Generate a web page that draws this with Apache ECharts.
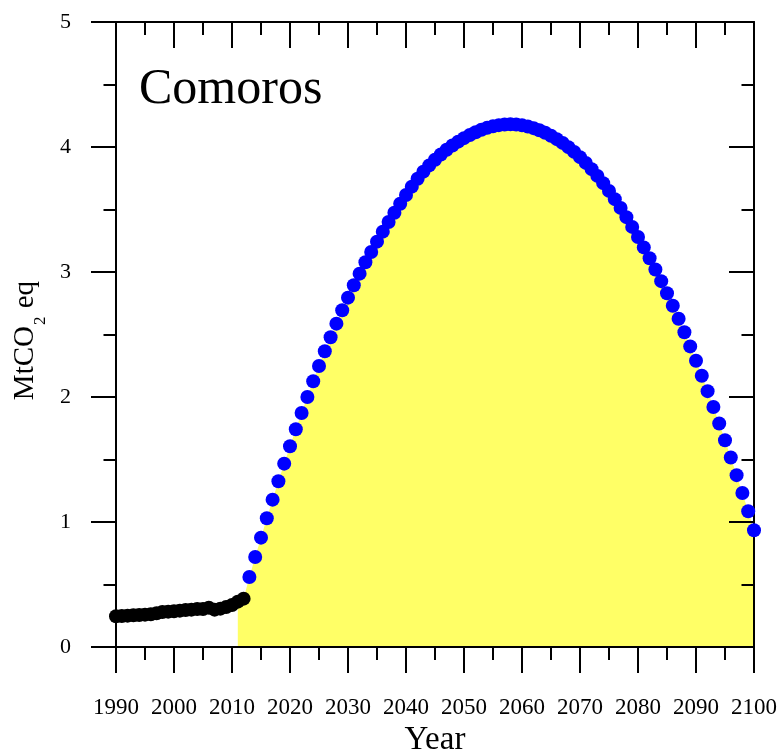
<!DOCTYPE html>
<html>
<head>
<meta charset="utf-8">
<script src="https://cdn.jsdelivr.net/npm/echarts@6/dist/echarts.min.js"></script>
<style>html,body{margin:0;padding:0;background:#fff}#c{width:778px;height:753px}</style>
</head>
<body>
<div id="c"></div>
<script>
const histYears = [1990,1991,1992,1993,1994,1995,1996,1997,1998,1999,2000,2001,2002,2003,2004,2005,2006,2007,2008,2009,2010,2011,2012];
const histValues = [0.246,0.248,0.251,0.254,0.256,0.259,0.262,0.27,0.28,0.283,0.286,0.291,0.296,0.299,0.304,0.304,0.315,0.299,0.307,0.32,0.336,0.363,0.387];

const projYears = [2013,2014,2015,2016,2017,2018,2019,2020,2021,2022,2023,2024,2025,2026,2027,2028,2029,2030,
  2031,2032,2033,2034,2035,2036,2037,2038,2039,2040,2041,2042,2043,2044,2045,2046,2047,2048,2049,2050,
  2051,2052,2053,2054,2055,2056,2057,2058,2059,2060,2061,2062,2063,2064,2065,2066,2067,2068,2069,2070,
  2071,2072,2073,2074,2075,2076,2077,2078,2079,2080,2081,2082,2083,2084,2085,2086,2087,2088,2089,2090,
  2091,2092,2093,2094,2095,2096,2097,2098,2099,2100];
const projValues = [0.56,0.72,0.875,1.03,1.179,1.326,1.467,1.606,1.742,1.872,2.0,2.126,2.248,2.366,2.478,2.587,2.694,2.795,
  2.894,2.987,3.078,3.16,3.243,3.323,3.40,3.474,3.546,3.616,3.683,3.746,3.803,3.853,3.898,3.94,3.978,4.012,4.043,4.071,
  4.096,4.118,4.138,4.154,4.166,4.175,4.18,4.182,4.18,4.174,4.164,4.151,4.134,4.114,4.09,4.063,4.033,3.999,3.961,3.919,
  3.873,3.823,3.769,3.711,3.649,3.583,3.513,3.439,3.361,3.28,3.197,3.11,3.02,2.927,2.83,2.73,2.626,2.518,2.405,2.29,
  2.17,2.047,1.92,1.788,1.654,1.516,1.375,1.232,1.086,0.934];

const fillStartYear = 2011;
const title = 'Comoros';
const xName = 'Year';

const FONT = 'Liberation Serif';
const histData = histYears.map((y, i) => [y, histValues[i]]);
const projData = projYears.map((y, i) => [y, projValues[i]]);
const fillData = histData.filter(d => d[0] >= fillStartYear).concat(projData);

const lineStyle = {color: '#000', width: 2};
function mkX(pos, inside, labels) {
  return {
    type: 'value', min: 1990, max: 2100, interval: 10, position: pos, z: 3,
    axisLine: {show: true, onZero: false, lineStyle},
    axisTick: {show: true, inside, length: 26, lineStyle},
    minorTick: {show: true, splitNumber: 2, length: 13, lineStyle},
    axisLabel: labels ? {margin: 49, fontSize: 23, fontFamily: FONT, color: '#000', formatter: v => String(v)} : {show: false},
    splitLine: {show: false}, minorSplitLine: {show: false}
  };
}
function mkY(pos, inside, labels) {
  return {
    type: 'value', min: 0, max: 5, interval: 1, position: pos, z: 3,
    axisLine: {show: true, onZero: false, lineStyle},
    axisTick: {show: true, inside, length: 25, lineStyle},
    minorTick: {show: true, splitNumber: 2, length: 12.5, lineStyle},
    axisLabel: labels ? {margin: 45, fontSize: 22, fontFamily: FONT, color: '#000'} : {show: false},
    splitLine: {show: false}, minorSplitLine: {show: false}
  };
}
const xBottom = mkX('bottom', false, true);
xBottom.name = xName;
xBottom.nameLocation = 'middle';
xBottom.nameGap = 77;
xBottom.nameTextStyle = {fontSize: 33, fontFamily: FONT, color: '#000'};
const yLeft = mkY('left', false, true);
yLeft.name = '{a|MtCO}{s|2}{a| eq}{p|}';
yLeft.nameLocation = 'middle';
yLeft.nameGap = 68;
yLeft.nameTextStyle = {
  fontSize: 29, fontFamily: FONT, color: '#000',
  rich: {
    a: {fontSize: 29, fontFamily: FONT, color: '#000', lineHeight: 29, verticalAlign: 'top'},
    s: {fontSize: 17, fontFamily: FONT, color: '#000', lineHeight: 16, verticalAlign: 'top', padding: [21, 1, 0, 1]},
    p: {width: 12, lineHeight: 10}
  }
};

const chart = echarts.init(document.getElementById('c'), null, {renderer: 'canvas'});
chart.setOption({
  animation: false,
  backgroundColor: '#fff',
  grid: {left: 116, right: 24, top: 22, bottom: 106, containLabel: false, outerBoundsMode: 'none'},
  xAxis: [xBottom, mkX('top', true, false)],
  yAxis: [yLeft, mkY('right', true, false)],
  graphic: [{
    type: 'text', x: 139, y: 90, z: 10,
    style: {text: title, font: '50px "' + FONT + '"', fill: '#000', align: 'left', verticalAlign: 'middle'}
  }],
  series: [
    {type: 'line', data: fillData, xAxisIndex: 0, yAxisIndex: 0, showSymbol: false, symbol: 'none',
     lineStyle: {width: 0, opacity: 0}, areaStyle: {color: '#FFFF66', opacity: 1}, z: 1, silent: true},
    {type: 'scatter', data: histData, xAxisIndex: 0, yAxisIndex: 0, symbolSize: 14, clip: false,
     itemStyle: {color: '#000', opacity: 1}, z: 4},
    {type: 'scatter', data: projData, xAxisIndex: 0, yAxisIndex: 0, symbolSize: 14, clip: false,
     itemStyle: {color: '#0000FF', opacity: 1}, z: 4}
  ]
});
</script>
</body>
</html>
